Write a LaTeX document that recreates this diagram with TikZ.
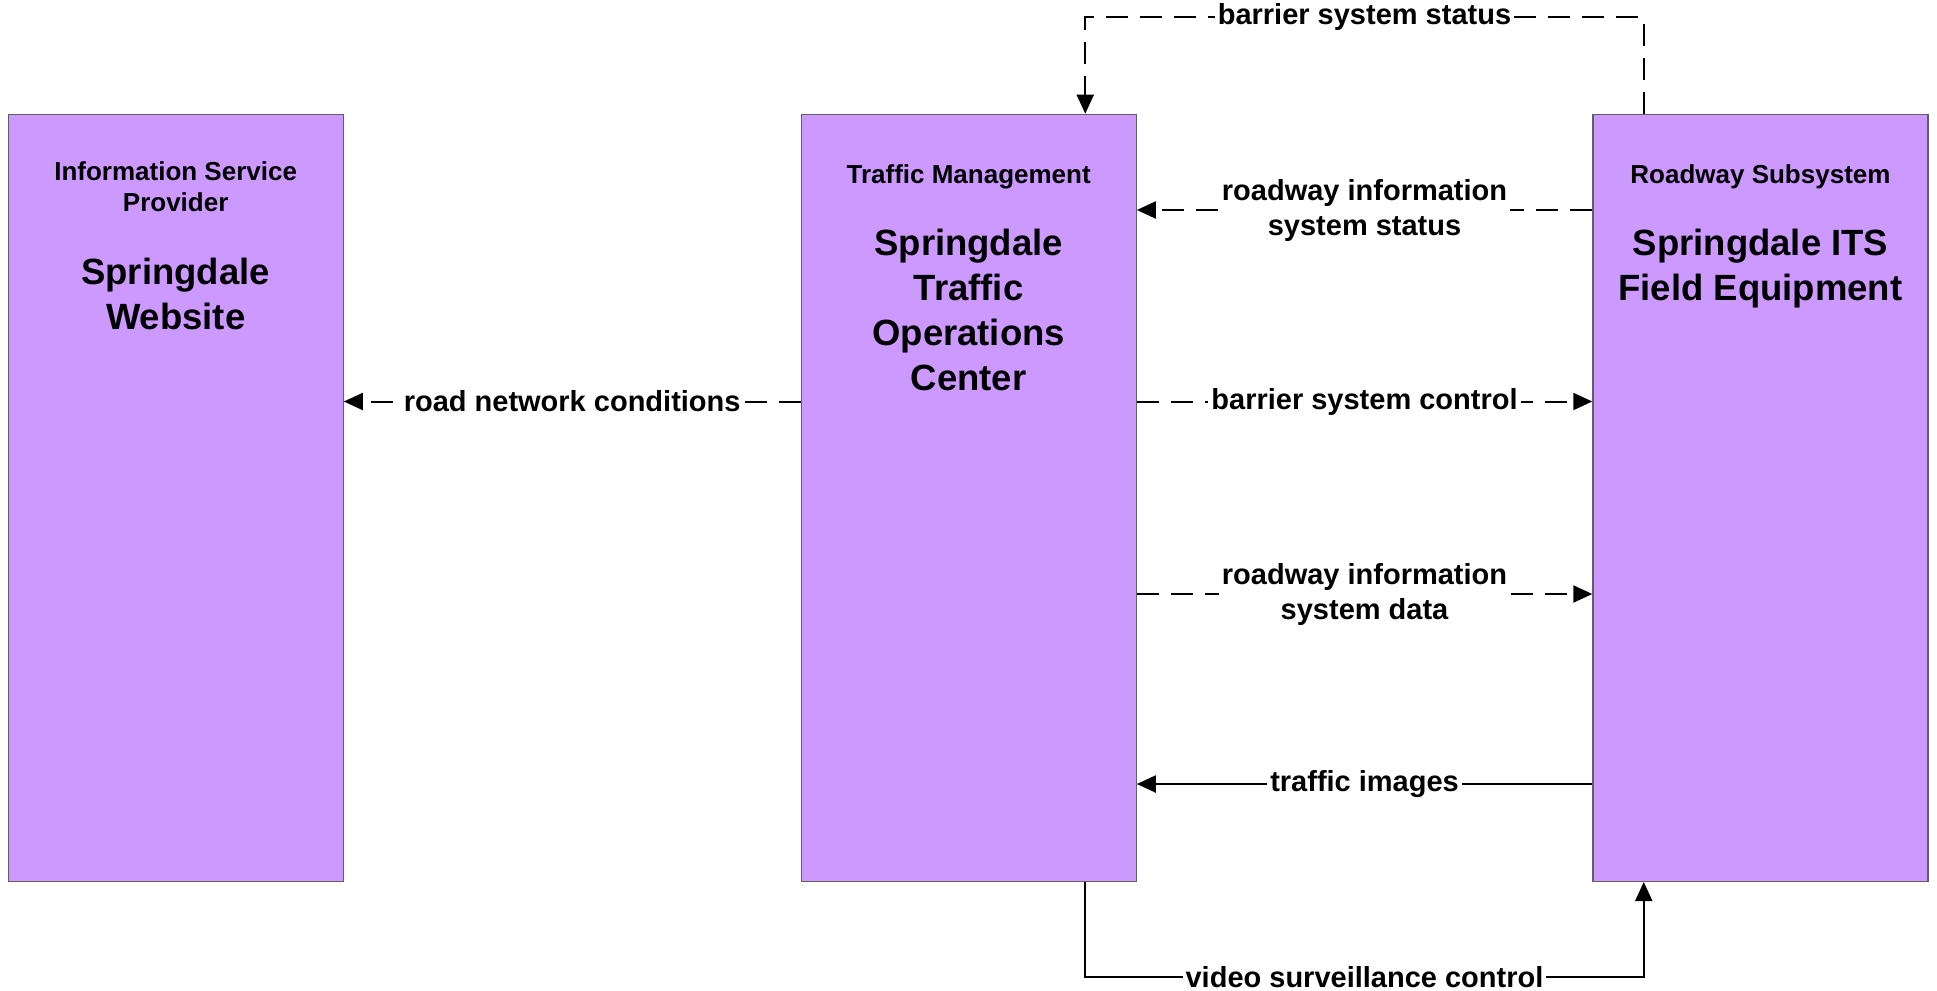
\documentclass[tikz,border=0pt]{standalone}
\usepackage{fontspec}
\setmainfont{Liberation Sans}
\usetikzlibrary{arrows.meta,positioning}

\definecolor{boxfill}{HTML}{CC99FF}
\definecolor{boxline}{HTML}{606060}

\begin{document}
\begin{tikzpicture}[>={Triangle[length=19pt,width=17pt]},x=1pt,y=-1pt,
  every node/.style={font=\bfseries},
  subsys/.style={draw=boxline,line width=1.3pt,fill=boxfill,minimum width=335pt,minimum height=767pt,inner sep=0pt,anchor=north west},
  headtxt/.style={align=center,inner sep=0pt,font=\fontsize{26}{31}\selectfont\bfseries,execute at begin node=\strut,execute at end node=\strut},
  nametxt/.style={align=center,inner sep=0pt,font=\fontsize{36.5}{45}\selectfont\bfseries,execute at begin node=\strut},
  lbl/.style={fill=white,inner sep=3pt,align=center,font=\fontsize{29}{35}\selectfont\bfseries},
  flow/.style={line width=2pt},
  dashflow/.style={flow,dash pattern=on 22pt off 12pt}]
  \useasboundingbox (0,0) rectangle (1937,990);
  % subsystems
  \node[subsys] (isp) at (7.5,113.7) {};
  \node[subsys] (tms) at (800.5,113.7) {};
  \node[subsys] (rs) at (1592.3,113.7) {};
  \node[headtxt,below=47.6pt] (isphead) at (isp.north) {Information Service\\Provider};
  \node[nametxt,below=37pt of isphead] (ispname) {Springdale\\Website};
  \node[headtxt,below=47.6pt] (tmshead) at (tms.north) {Traffic Management};
  \node[nametxt,below=36pt of tmshead] (tmsname) {Springdale\\Traffic\\Operations\\Center};
  \node[headtxt,below=47.6pt] (rshead) at (rs.north) {Roadway Subsystem};
  \node[nametxt,below=36pt of rshead] (rsname) {Springdale ITS\\Field Equipment};
  % loop ends
  \coordinate (tmsTop) at ([xshift=116.6pt]tms.north);
  \coordinate (tmsBot) at ([xshift=116.6pt]tms.south);
  \coordinate (rsTop) at ([xshift=-116.7pt]rs.north);
  \coordinate (rsBot) at ([xshift=-116.7pt]rs.south);
  % flows
  \draw[dashflow,->] (tms.west |- 0,401.5) -- node[lbl]{road network conditions} (isp.east |- 0,401.5);
  \draw[dashflow,->] (rs.west |- 0,210) -- node[lbl]{roadway information\\system status} (tms.east |- 0,210);
  \draw[dashflow,->] (tms.east |- 0,401.5) -- node[lbl]{barrier system control} (rs.west |- 0,401.5);
  \draw[dashflow,->] (tms.east |- 0,594) -- node[lbl]{roadway information\\system data} (rs.west |- 0,594);
  \draw[flow,->] (rs.west |- 0,784) -- node[lbl]{traffic images} (tms.east |- 0,784);
  \draw[dashflow,->] (rsTop) -- (rsTop |- 0,17.3) -- node[lbl]{barrier system status} (tmsTop |- 0,17.3) -- (tmsTop);
  \draw[flow,->] (tmsBot) -- (tmsBot |- 0,977) -- node[lbl]{video surveillance control} (rsBot |- 0,977) -- (rsBot);
\end{tikzpicture}
\end{document}
